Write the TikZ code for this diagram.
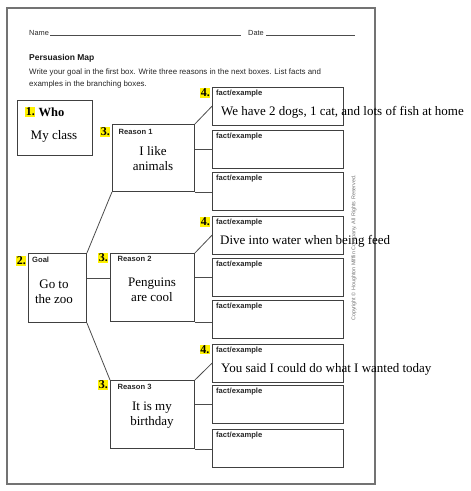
\documentclass[tikz,border=0pt]{standalone}
\usepackage{fontspec}
\setmainfont{Liberation Serif}
\newfontfamily\arial{Liberation Sans}
\begin{document}
\begin{tikzpicture}[x=1pt,y=-1pt,
  box/.style={draw=black!75, line width=0.9pt, inner sep=0, anchor=north west},
  form/.style={font=\arial\fontsize{7.9}{9}\selectfont, text=black!85, anchor=west, inner sep=0},
  formb/.style={font=\arial\bfseries\fontsize{8.5}{9}\selectfont, text=black!90, anchor=west, inner sep=0},
  lab/.style={font=\arial\bfseries\fontsize{7.6}{8}\selectfont, text=black!85, anchor=west, inner sep=0},
  num/.style={font=\bfseries\fontsize{12}{12}\selectfont, fill=yellow, inner sep=0.6pt, anchor=west},
  hand/.style={font=\fontsize{13}{15}\selectfont, align=center, inner sep=0},
  handl/.style={font=\fontsize{13}{15}\selectfont, anchor=west, inner sep=0},
  conn/.style={draw=black!70, line width=0.8pt}]
\useasboundingbox (0,0) rectangle (471,491);
% page frame
\draw[black!55, line width=1.6pt] (7,8) rectangle (375,484);
% header
\node[form, font=\arial\fontsize{7.4}{8}\selectfont] (name) at (29,33) {Name};
\coordinate (nl1) at (50,35.5);
\coordinate (nl2) at (241,35.5);
\draw[black!70, line width=0.4pt] (nl1) -- (nl2);
\node[form, font=\arial\fontsize{7.4}{8}\selectfont] (date) at (248,33) {Date};
\coordinate (dl1) at (266,35.5);
\coordinate (dl2) at (355,35.5);
\draw[black!70, line width=0.4pt] (dl1) -- (dl2);
\node[formb] (title) at (29,58.5) {Persuasion Map};
\node[form] (instr1) at (29,72.5) {Write your goal in the first box. Write three reasons in the next boxes. List facts and};
\node[form] (instr2) at (29,84) {examples in the branching boxes.};
% Who box
\node[box, minimum width=75, minimum height=55] (who) at (17,100) {};
\node[num] (n1) at (25,112) {1.};
\node[font=\bfseries\fontsize{12.5}{12}\selectfont, anchor=west, inner sep=0] (whot) at (38.5,112) {Who};
\node[hand] (whoc) at (54,136) {My class};
% Goal
\node[box, minimum width=58, minimum height=69] (goal) at (28,253) {};
\node[num] (n2) at (16,261) {2.};
\node[lab] (goall) at (32,260) {Goal};
\node[hand] (goalt) at (54,291.5) {Go to\\the zoo};
% Reasons
\node[box, minimum width=82, minimum height=67] (r1) at (112,124) {};
\node[box, minimum width=84, minimum height=68] (r2) at (110,253) {};
\node[box, minimum width=84, minimum height=68] (r3) at (110,380) {};
\node[num] (n3a) at (100,132) {3.};
\node[num] (n3b) at (98,258) {3.};
\node[num] (n3c) at (98,385) {3.};
\node[lab] (r1l) at (118.5,132) {Reason 1};
\node[lab] (r2l) at (117.5,259) {Reason 2};
\node[lab] (r3l) at (117.5,387) {Reason 3};
\node[hand] (r1t) at (153,158.5) {I like\\animals};
\node[hand] (r2t) at (152,289.5) {Penguins\\are cool};
\node[hand] (r3t) at (152,415.5) {It is my\\birthday};
% fact boxes
\foreach \i/\y in {1/87,2/130,3/172,4/216,5/258,6/300,7/344,8/385,9/429}{
  \node[box, minimum width=131, minimum height=37.5] (f\i) at (212,\y) {};
  \node[lab] (fl\i) at (216,\y+6.5) {fact/example};
}
\node[num] (n4a) at (200,93) {4.};
\node[num] (n4b) at (200,222) {4.};
\node[num] (n4c) at (199.5,349.5) {4.};
\node[handl] (t1) at (221,112) {We have 2 dogs, 1 cat, and lots of fish at home};
\node[handl] (t4) at (220,241) {Dive into water when being feed};
\node[handl] (t7) at (221,369) {You said I could do what I wanted today};
% copyright
\node[font=\arial\fontsize{5.4}{6}\selectfont, text=black!55, rotate=90, inner sep=0] (copy) at (354,248) {Copyright \copyright{} Houghton Mifflin Company. All Rights Reserved.};
% connectors
\draw[conn] (goal.north east) -- (r1.south west);
\draw[conn] ([yshift=-25pt]goal.north east) -- ([yshift=-25pt]r2.north west);
\draw[conn] (goal.south east) -- (r3.north west);
\draw[conn] (r1.north east) -- (f1.west);
\draw[conn] (f2.west -| r1.east) -- (f2.west);
\draw[conn] (r1.south east) -- (r1.south east -| f3.west);
\draw[conn] (r2.north east) -- (f4.west);
\draw[conn] (f5.west -| r2.east) -- (f5.west);
\draw[conn] (r2.south east) -- (r2.south east -| f6.west);
\draw[conn] (r3.north east) -- (f7.west);
\draw[conn] (f8.west -| r3.east) -- (f8.west);
\draw[conn] (r3.south east) -- (r3.south east -| f9.west);
\end{tikzpicture}
\end{document}
